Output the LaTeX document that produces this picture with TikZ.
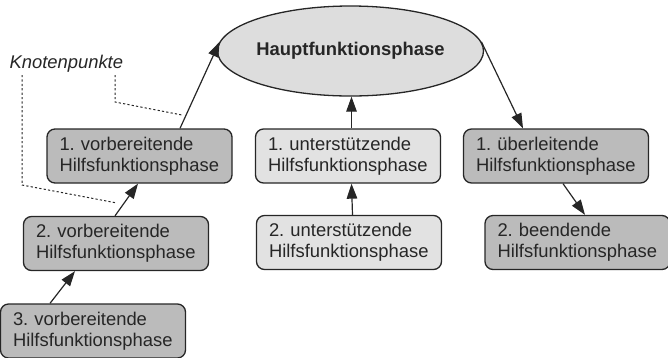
\documentclass[tikz,border=0pt]{standalone}
\usepackage{fontspec}
\setmainfont{Liberation Sans}
\frenchspacing
\usetikzlibrary{arrows.meta,shapes.geometric}
\definecolor{darkfill}{HTML}{BBBBBB}
\definecolor{lightfill}{HTML}{E2E2E2}
\definecolor{ellfill}{HTML}{DDDDDD}
\definecolor{linec}{HTML}{262626}
\begin{document}
\frenchspacing
\begin{tikzpicture}[x=1pt,y=-1pt,
  every node/.style={font=\fontsize{18.4}{21.3}\selectfont, text=linec},
  phasebox/.style={draw=linec, line width=1.3pt, rectangle, rounded corners=8pt,
    minimum width=185pt, minimum height=54pt, text width=160pt, inner xsep=12.5pt,
    inner ysep=0pt, align=left},
  darkbox/.style={phasebox, fill=darkfill},
  lightbox/.style={phasebox, fill=lightfill},
  conn/.style={draw=linec, line width=1.2pt, -{Triangle[length=15pt,width=10.5pt]}},
  knot/.style={draw=linec, line width=1pt, dash pattern=on 2.2pt off 2.2pt}]
\useasboundingbox (0,0) rectangle (668,357);

\node[ellipse, draw=linec, line width=1.3pt, fill=ellfill, minimum width=221pt,
  minimum height=90pt, inner sep=0pt] (haupt) at (350.5,51) {\textbf{Hauptfunktionsphase}};

\node[darkbox]  (v1) at (139.5,156) {1. vorbereitende\\Hilfsfunktionsphase};
\node[lightbox] (u1) at (348,156)   {1. unterstützende\\Hilfsfunktionsphase};
\node[darkbox]  (ue1) at (556,156)  {1. überleitende\\Hilfsfunktionsphase};
\node[darkbox]  (v2) at (116,243.5) {2. vorbereitende\\Hilfsfunktionsphase};
\node[lightbox] (u2) at (349,242.5) {2. unterstützende\\Hilfsfunktionsphase};
\node[darkbox]  (b2) at (577.5,242.5) {2. beendende\\Hilfsfunktionsphase};
\node[darkbox]  (v3) at (93,331)    {3. vorbereitende\\Hilfsfunktionsphase};

\node[anchor=base west, font=\fontsize{18.4}{21.3}\selectfont\itshape] (knoten) at (6,68) {Knotenpunkte};

\draw[conn] ([xshift=40.5pt]v1.north) -- (haupt.176);
\draw[conn] ([xshift=-1pt]v2.north) -- ([xshift=-1.5pt]v1.south);
\draw[conn] ([xshift=-43pt]v3.north) -- ([xshift=-41pt]v2.south);
\draw[conn] ([xshift=3.5pt]u2.north) -- ([xshift=3.5pt]u1.south);
\draw[conn] ([xshift=3.5pt]u1.north) -- ([xshift=3.5pt]u1.north |- haupt.south);
\draw[conn] (haupt.4) -- ([xshift=-33pt]ue1.north);
\draw[conn] ([xshift=7pt]ue1.south) -- ([xshift=7.5pt]b2.north);

\coordinate (ka) at (115,75);
\coordinate (kb) at (115,102);
\coordinate (kc) at (182,115);
\coordinate (kd) at (22,75);
\coordinate (ke) at (22,185);
\coordinate (kf) at (117,203);
\draw[knot] (ka) -- (kb) -- (kc);
\draw[knot] (kd) -- (ke) -- (kf);
\end{tikzpicture}
\end{document}
